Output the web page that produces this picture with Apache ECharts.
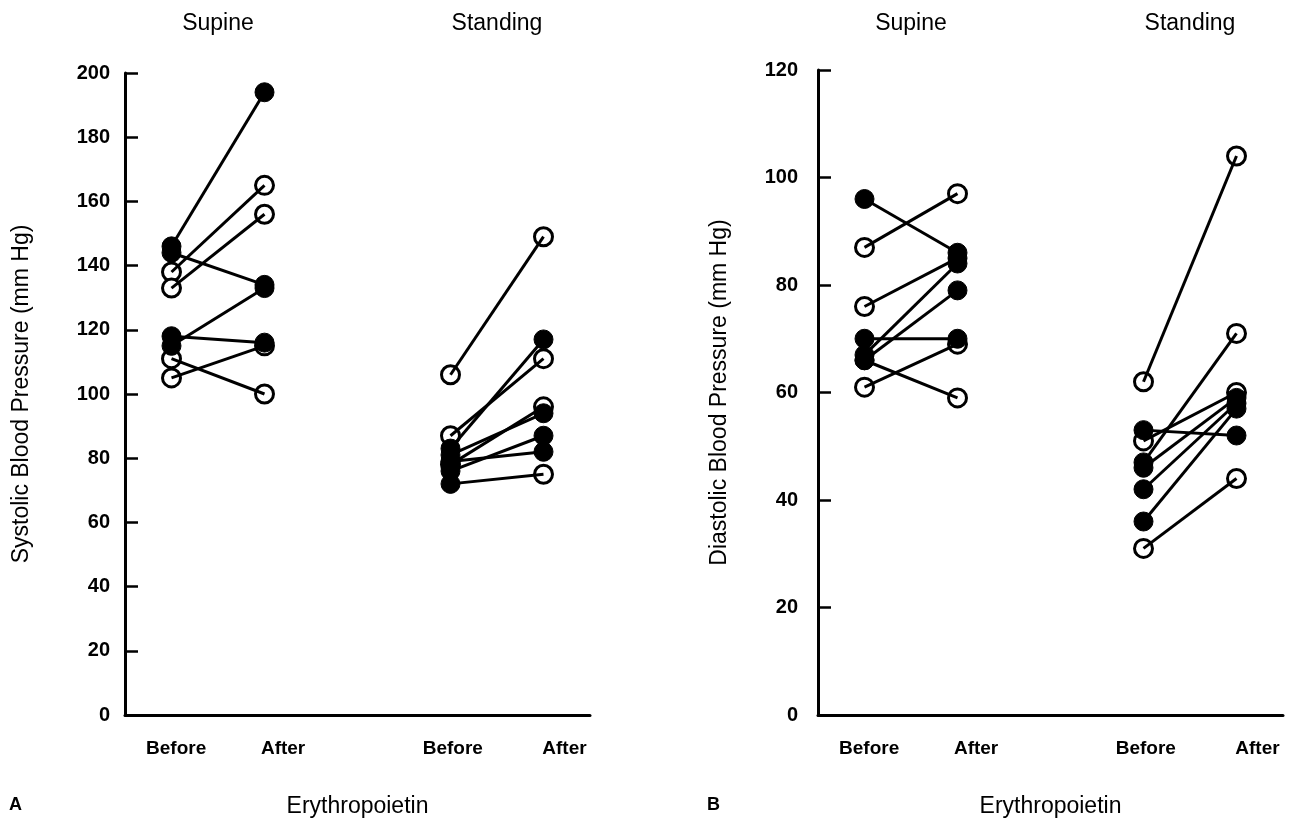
<!DOCTYPE html>
<html>
<head>
<meta charset="utf-8">
<script src="https://cdn.jsdelivr.net/npm/echarts@6/dist/echarts.min.js"></script>
<style>html,body{margin:0;padding:0;background:#fff;}#c{width:1291px;height:823px;}</style>
</head>
<body>
<div id="c"></div>
<script>
// ---- data ----
const groupNames = ['Supine', 'Standing'];
const timeLabels = ['Before', 'After', 'Before', 'After'];
const xTitle = 'Erythropoietin';
const sysTitle = 'Systolic Blood Pressure (mm Hg)';
const diaTitle = 'Diastolic Blood Pressure (mm Hg)';

// Systolic, supine (1 = filled circle, 0 = open circle)
const sysSupineBefore = [146, 144, 118, 115, 138, 133, 111, 105];
const sysSupineAfter  = [194, 134, 116, 133, 165, 156, 100, 115];
const sysSupineFillB  = [1, 1, 1, 1, 0, 0, 0, 0];
const sysSupineFillA  = [1, 1, 1, 1, 0, 0, 0, 0];
// Systolic, standing
const sysStandBefore = [106, 83, 87, 81, 78, 76, 72, 79];
const sysStandAfter  = [149, 117, 111, 94, 96, 87, 75, 82];
const sysStandFillB  = [0, 1, 0, 1, 0, 1, 1, 1];
const sysStandFillA  = [0, 1, 0, 1, 0, 1, 0, 1];
// Diastolic, supine
const diaSupineBefore = [96, 87, 76, 70, 67, 66, 61, 66];
const diaSupineAfter  = [86, 97, 85, 70, 84, 79, 69, 59];
const diaSupineFillB  = [1, 0, 0, 1, 1, 1, 0, 1];
const diaSupineFillA  = [1, 0, 1, 1, 1, 1, 0, 0];
// Diastolic, standing
const diaStandBefore = [62, 53, 51, 47, 46, 42, 36, 31];
const diaStandAfter  = [104, 52, 60, 71, 59, 58, 57, 44];
const diaStandFillB  = [0, 1, 0, 1, 1, 1, 1, 0];
const diaStandFillA  = [0, 1, 0, 0, 1, 1, 1, 0];

// slot positions on the 0..10 horizontal scale
const slotX = [1, 3, 7, 9];
const slotLabelX = [1.1, 3.4, 7.05, 9.45];
const groupLabelX = [2, 8];

const FONT = 'Liberation Sans';

function buildSeries(xi, yi, groups) {
  const out = [];
  const openPts = [], fillPts = [];
  groups.forEach(g => {
    g.before.forEach((b, i) => {
      const a = g.after[i];
      out.push({
        type: 'line', xAxisIndex: xi, yAxisIndex: yi,
        data: [[g.xb, b], [g.xa, a]],
        symbol: 'none', silent: true, z: 3,
        lineStyle: { color: '#000', width: 3 }
      });
      (g.fb[i] ? fillPts : openPts).push([g.xb, b]);
      (g.fa[i] ? fillPts : openPts).push([g.xa, a]);
    });
  });
  out.push({
    type: 'scatter', xAxisIndex: xi, yAxisIndex: yi, data: openPts, z: 2,
    symbol: 'circle', symbolSize: 18, silent: true,
    itemStyle: { color: '#fff', borderColor: '#000', borderWidth: 3, opacity: 1 }
  });
  out.push({
    type: 'scatter', xAxisIndex: xi, yAxisIndex: yi, data: fillPts, z: 4,
    symbol: 'circle', symbolSize: 19, silent: true,
    itemStyle: { color: '#000', borderColor: '#000', borderWidth: 1, opacity: 1 }
  });
  return out;
}

function bottomAxis(gi) {
  return {
    type: 'value', gridIndex: gi, min: 0, max: 10, position: 'bottom',
    axisLine: { show: true, lineStyle: { color: '#000', width: 3 } },
    axisTick: { show: false }, splitLine: { show: false },
    axisLabel: {
      customValues: slotLabelX, margin: 24,
      color: '#000', fontFamily: FONT, fontSize: 19, fontWeight: 'bold',
      formatter: v => timeLabels[slotLabelX.indexOf(v)] || ''
    },
    name: xTitle, nameLocation: 'middle', nameGap: 80,
    nameTextStyle: { color: '#000', fontFamily: FONT, fontSize: 23 }
  };
}
function topAxis(gi, margin) {
  return {
    type: 'value', gridIndex: gi, min: 0, max: 10, position: 'top',
    axisLine: { show: false }, axisTick: { show: false }, splitLine: { show: false },
    axisLabel: {
      customValues: groupLabelX, margin: margin,
      color: '#000', fontFamily: FONT, fontSize: 23,
      formatter: v => groupNames[groupLabelX.indexOf(v)] || ''
    }
  };
}
function leftAxis(gi, max, name, margin, gap) {
  return {
    type: 'value', gridIndex: gi, min: 0, max: max, interval: 20,
    axisLine: { show: true, lineStyle: { color: '#000', width: 3 } },
    axisTick: { show: true, inside: true, length: 13, lineStyle: { color: '#000', width: 2.5 } },
    splitLine: { show: false },
    axisLabel: { margin: margin, color: '#000', fontFamily: FONT, fontSize: 20, fontWeight: 'bold' },
    name: name, nameLocation: 'middle', nameRotate: 90, nameGap: gap,
    nameTextStyle: { color: '#000', fontFamily: FONT, fontSize: 23 }
  };
}

const chart = echarts.init(document.getElementById('c'), null, { renderer: 'canvas' });
chart.setOption({
  animation: false,
  backgroundColor: '#fff',
  grid: [
    { left: 125, right: 701, top: 73, bottom: 108 },
    { left: 818, right: 8, top: 70, bottom: 108 }
  ],
  xAxis: [bottomAxis(0), topAxis(0, 38), bottomAxis(1), topAxis(1, 35)],
  yAxis: [leftAxis(0, 200, sysTitle, 15, 92), leftAxis(1, 120, diaTitle, 20, 87)],
  graphic: [
    { type: 'text', left: 9, top: 796, style: { text: 'A', font: 'bold 18px "Liberation Sans"', fill: '#000' } },
    { type: 'text', left: 707, top: 796, style: { text: 'B', font: 'bold 18px "Liberation Sans"', fill: '#000' } }
  ],
  series: [].concat(
    buildSeries(0, 0, [
      { xb: slotX[0], xa: slotX[1], before: sysSupineBefore, after: sysSupineAfter, fb: sysSupineFillB, fa: sysSupineFillA },
      { xb: slotX[2], xa: slotX[3], before: sysStandBefore, after: sysStandAfter, fb: sysStandFillB, fa: sysStandFillA }
    ]),
    buildSeries(2, 1, [
      { xb: slotX[0], xa: slotX[1], before: diaSupineBefore, after: diaSupineAfter, fb: diaSupineFillB, fa: diaSupineFillA },
      { xb: slotX[2], xa: slotX[3], before: diaStandBefore, after: diaStandAfter, fb: diaStandFillB, fa: diaStandFillA }
    ])
  )
});
</script>
</body>
</html>
